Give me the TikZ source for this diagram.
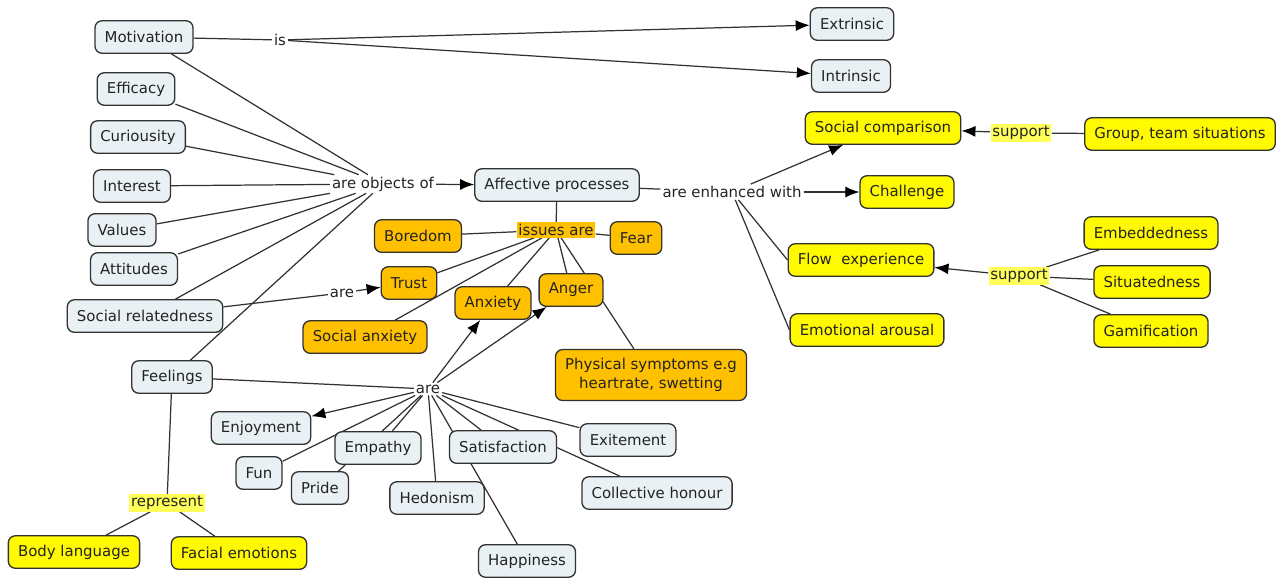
\documentclass[tikz,border=0pt]{standalone}
\usepackage{fontspec}
\setmainfont{DejaVu Sans}
\usetikzlibrary{arrows.meta,backgrounds}
\definecolor{ConceptFill}{RGB}{234,241,245}
\definecolor{YellowFill}{RGB}{255,250,0}
\definecolor{OrangeFill}{RGB}{255,192,0}
\definecolor{MarkYellow}{RGB}{255,255,90}
\definecolor{LineGray}{RGB}{50,50,50}
\definecolor{TextGray}{RGB}{35,35,35}

\begin{document}
\begin{tikzpicture}[x=0.02cm, y=-0.02cm, font=\fontsize{8.5}{10.5}\selectfont,
    concept/.style={draw=LineGray, line width=0.75pt, rounded corners=4pt, fill=ConceptFill, text=TextGray, inner xsep=5.5pt, minimum height=18.5pt},
    yconcept/.style={concept, fill=YellowFill},
    oconcept/.style={concept, fill=OrangeFill},
    link/.style={inner sep=1pt, text=TextGray},
    linkline/.style={draw=LineGray, line width=0.7pt},
    linkarrow/.style={linkline, -{Latex[length=2.8mm,width=2.2mm,color=black]}}]
        \useasboundingbox (0,0) rectangle (1283,579);
        \node[concept] (motivation) at (144,37) {Motivation};
        \node[concept] (efficacy) at (136,89) {Efficacy};
        \node[concept] (curiosity) at (138,137) {Curiousity};
        \node[concept] (interest) at (132,186) {Interest};
        \node[concept] (values) at (122,230) {Values};
        \node[concept] (attitudes) at (134,269) {Attitudes};
        \node[concept] (social) at (145,316) {Social relatedness};
        \node[concept] (feelings) at (172,377) {Feelings};
        \node[concept] (extrinsic) at (852,24) {Extrinsic};
        \node[concept] (intrinsic) at (851,76) {Intrinsic};
        \node[concept] (affective) at (557,185) {Affective processes};
        \node[concept] (enjoyment) at (261,428) {Enjoyment};
        \node[concept] (empathy) at (378,448) {Empathy};
        \node[concept] (fun) at (259,473) {Fun};
        \node[concept] (pride) at (320,488) {Pride};
        \node[concept] (hedonism) at (437,498) {Hedonism};
        \node[concept] (satisfaction) at (503,447) {Satisfaction};
        \node[concept] (exitement) at (628,440) {Exitement};
        \node[concept] (honour) at (657,493) {Collective honour};
        \node[concept] (happiness) at (527,561) {Happiness};
        \node[oconcept] (boredom) at (418,236) {Boredom};
        \node[oconcept] (fear) at (636,238) {Fear};
        \node[oconcept] (trust) at (409,283) {Trust};
        \node[oconcept] (socanx) at (365,337) {Social anxiety};
        \node[oconcept] (anxiety) at (493,303) {Anxiety};
        \node[oconcept] (anger) at (571,290) {Anger};
        \node[oconcept, align=center, minimum height=29pt] (physical) at (651,375) {Physical symptoms e.g\\ heartrate, swetting};
        \node[yconcept] (body) at (74,552) {Body language};
        \node[yconcept] (facial) at (239,553) {Facial emotions};
        \node[yconcept] (comparison) at (883,128) {Social comparison};
        \node[yconcept] (group) at (1180,134) {Group, team situations};
        \node[yconcept] (challenge) at (907,192) {Challenge};
        \node[yconcept] (flow) at (861,260) {Flow~~experience};
        \node[yconcept] (arousal) at (867,330) {Emotional arousal};
        \node[yconcept] (embedded) at (1151,233) {Embeddedness};
        \node[yconcept] (situated) at (1152,282) {Situatedness};
        \node[yconcept] (gamification) at (1151,331) {Gamification};
        \node[link] (is) at (280,40) {is};
        \node[link] (objects) at (383,184) {are objects of};
        \node[link] (arerel) at (342,293) {are};
        \node[link] (arefeel) at (428,389) {are};
        \node[link, fill=OrangeFill] (issues) at (556,230) {issues are};
        \node[link, fill=MarkYellow] (represent) at (167,503) {represent};
        \node[link] (enhanced) at (732,192) {are enhanced with};
        \node[link, fill=MarkYellow] (supporttop) at (1021,133) {support};
        \node[link, fill=MarkYellow] (supportlow) at (1019,276) {support};
        \begin{scope}[on background layer]
        \draw[linkline] (motivation) -- (is);
        \draw[linkarrow] (is) -- (extrinsic); \draw[linkarrow] (is) -- (intrinsic);
        \draw[linkline] (motivation) -- (objects); \draw[linkline] (efficacy) -- (objects);
        \draw[linkline] (curiosity) -- (objects); \draw[linkline] (interest) -- (objects);
        \draw[linkline] (values) -- (objects); \draw[linkline] (attitudes) -- (objects);
        \draw[linkline] (social) -- (objects); \draw[linkline] (feelings) -- (objects);
        \draw[linkarrow] (objects) -- (affective);
        \draw[linkline] (social) -- (arerel); \draw[linkarrow] (arerel) -- (trust);
        \draw[linkline] (affective) -- (issues);
        \draw[linkline] (issues) -- (boredom); \draw[linkline] (issues) -- (fear);
        \draw[linkline] (issues) -- (trust); \draw[linkline] (issues) -- (socanx);
        \draw[linkline] (issues) -- (anxiety); \draw[linkline] (issues) -- (anger);
        \draw[linkline] (issues) -- (physical);
        \draw[linkline] (feelings) -- (arefeel);
        \draw[linkarrow] (arefeel) -- (anxiety); \draw[linkarrow] (arefeel) -- (anger);
        \draw[linkarrow] (arefeel) -- (enjoyment);
        \draw[linkline] (arefeel) -- (fun); \draw[linkline] (arefeel) -- (pride);
        \draw[linkline] (arefeel) -- (empathy); \draw[linkline] (arefeel) -- (hedonism);
        \draw[linkline] (arefeel) -- (satisfaction); \draw[linkline] (arefeel) -- (happiness);
        \draw[linkline] (arefeel) -- (honour); \draw[linkline] (arefeel) -- (exitement);
        \draw[linkline] (feelings) -- (represent);
        \draw[linkline] (represent) -- (body); \draw[linkline] (represent) -- (facial);
        \draw[linkline] (affective) -- (enhanced);
        \draw[linkarrow] (enhanced) -- (comparison); \draw[linkarrow] (enhanced) -- (challenge);
        \draw[linkline] (enhanced) -- (flow.west); \draw[linkline] (enhanced) -- (arousal.west);
        \draw[linkline] (group) -- (supporttop); \draw[linkarrow] (supporttop) -- (comparison);
        \draw[linkline] (embedded) -- (supportlow); \draw[linkline] (situated) -- (supportlow);
        \draw[linkline] (gamification) -- (supportlow); \draw[linkarrow] (supportlow) -- (flow);
        \end{scope}
      \end{tikzpicture}
\end{document}
